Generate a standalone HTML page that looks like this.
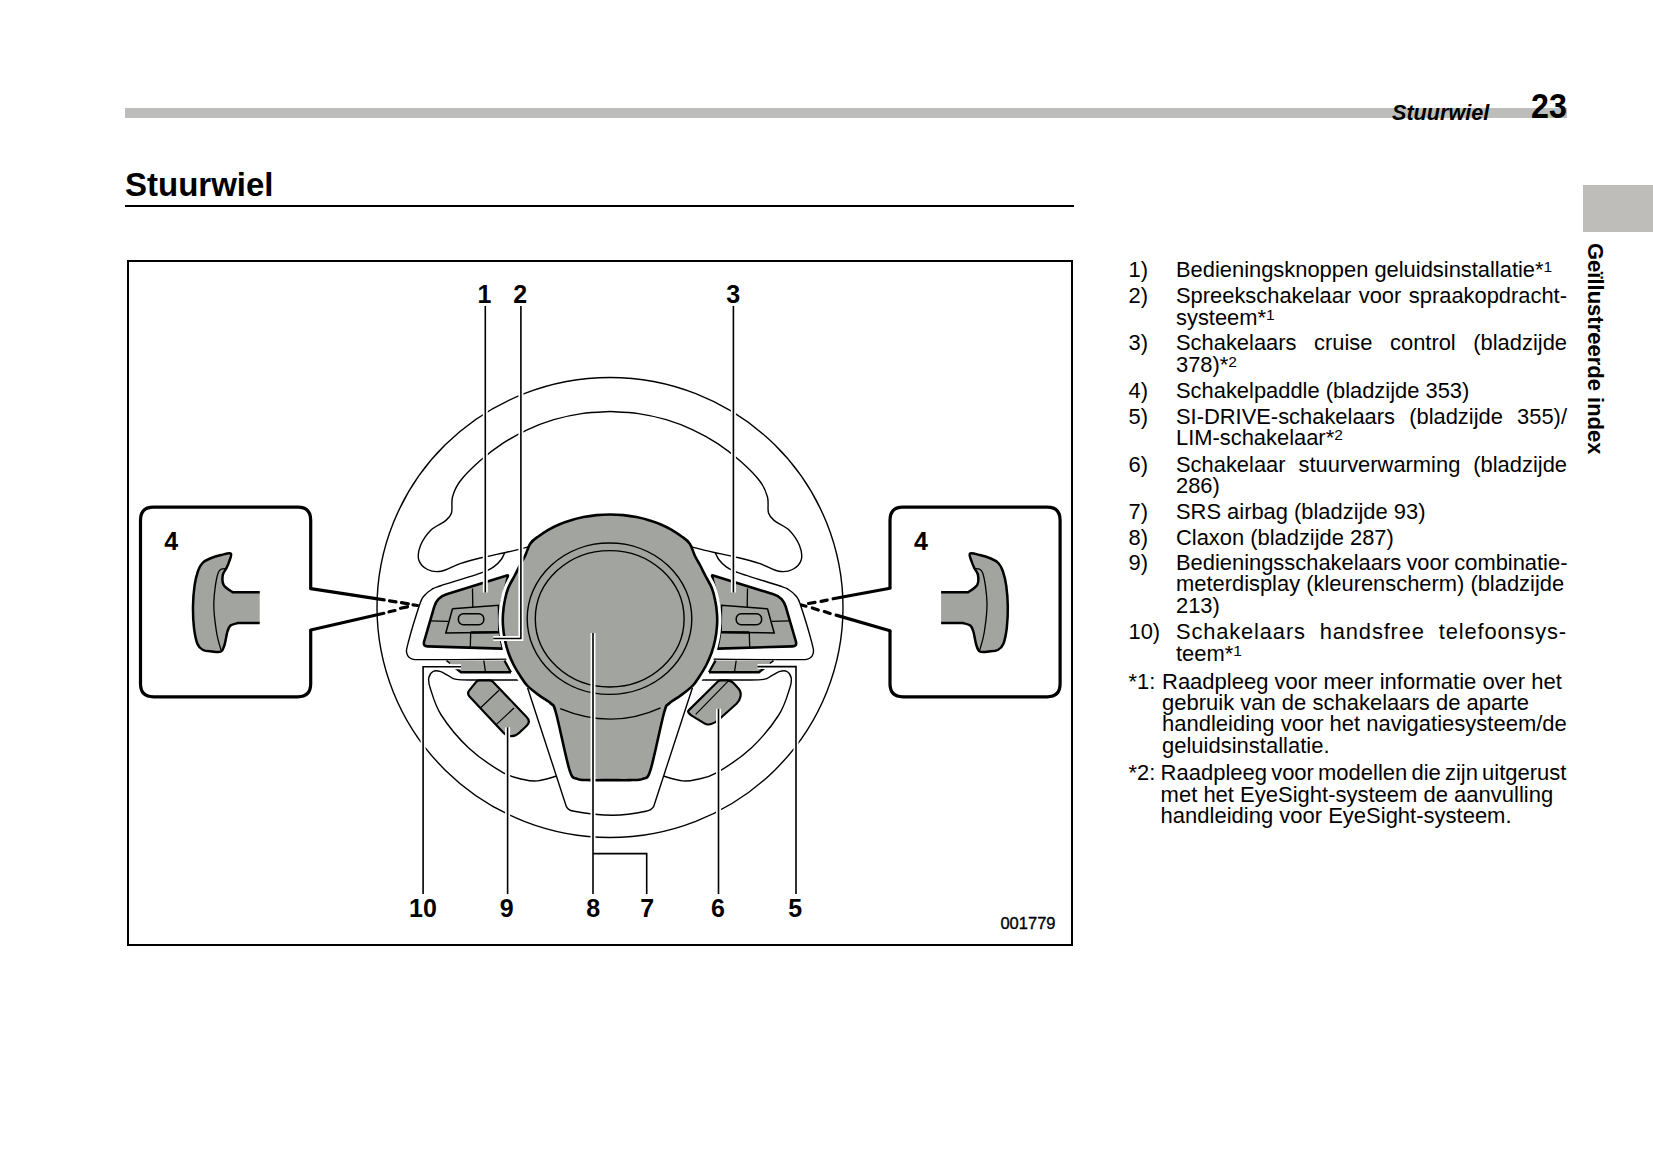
<!DOCTYPE html>
<html><head><meta charset="utf-8"><title>Stuurwiel</title>
<style>
html,body{margin:0;padding:0;background:#fff;}
body{width:1653px;height:1165px;position:relative;overflow:hidden;font-family:"Liberation Sans",sans-serif;color:#000;}
.t{position:absolute;white-space:nowrap;font-size:21.9px;line-height:24px;}
.j{text-align:justify;text-align-last:justify;}
.sup{font-size:15.5px;vertical-align:5px;line-height:0;}
#bar{position:absolute;left:125px;top:108.4px;width:1442px;height:9.4px;background:#bdbdbb;}
#hdr{position:absolute;left:1392px;top:100.4px;font-size:21.6px;font-weight:bold;font-style:italic;line-height:26px;}
#pg{position:absolute;left:1530.5px;top:86.2px;font-size:35px;font-weight:bold;line-height:40px;transform:scaleX(0.92);transform-origin:left top;}
#h1{position:absolute;left:125px;top:165.4px;font-size:33px;font-weight:bold;line-height:40px;}
#rule{position:absolute;left:125px;top:204.6px;width:948.5px;height:2px;background:#000;}
#tab{position:absolute;left:1583px;top:185.3px;width:70px;height:46.7px;background:#bebdb9;}
#vt{position:absolute;left:1581.5px;top:242.8px;font-size:22px;font-weight:bold;line-height:26px;writing-mode:vertical-rl;}
#frame{position:absolute;left:127px;top:260px;width:941.5px;height:681.5px;border:2.3px solid #000;}
svg{position:absolute;left:0;top:0;}
</style></head>
<body>
<div id="bar"></div>
<div id="hdr">Stuurwiel</div>
<div id="pg">23</div>
<div id="h1">Stuurwiel</div>
<div id="rule"></div>
<div id="tab"></div>
<div id="vt">Geïllustreerde index</div>
<div id="frame"></div>
<svg width="1653" height="1165" viewBox="0 0 1653 1165">
<defs><clipPath id="hc"><rect x="0" y="566" width="1653" height="122"/></clipPath></defs>
<ellipse cx="610" cy="607.5" rx="233" ry="230" fill="none" stroke="#000" stroke-width="1.4"/>
<path d="M610 411.5C605.3 411.8 591 412.2 581.6 413.6C572.2 414.9 562.9 417 553.8 419.7C544.7 422.4 535.7 425.9 527.2 429.9C518.6 433.9 510.2 438.5 502.3 443.7C494.4 448.9 486.8 454.8 479.7 461.1C472.6 467.4 464.4 475.5 459.9 481.5C455.3 487.5 453.9 491.8 452.5 497C451.1 502.2 452.7 509 451.5 513C450.3 517 448.7 518.1 445.3 520.9C441.9 523.7 435.1 525.9 431 530C426.9 534.1 422.5 540.6 420.5 545.6C418.5 550.6 417.6 556 418.8 560C420 564 423.8 567.6 427.5 569.5C431.2 571.4 435.8 572.2 441.2 571.2C446.6 570.2 453.3 565.9 460 563.7C466.7 561.5 473.9 559.6 481.3 557.8C488.7 556 498.7 554 504.6 552.7C510.6 551.4 512.4 551 517 549.9C521.6 548.8 529.5 546.6 532 546" fill="none" stroke="#000" stroke-width="1.4" />
<path d="M610 411.5C614.7 411.8 629 412.2 638.4 413.6C647.8 414.9 657.1 417 666.2 419.7C675.3 422.4 684.3 425.9 692.8 429.9C701.4 433.9 709.8 438.5 717.7 443.7C725.6 448.9 733.2 454.8 740.3 461.1C747.4 467.4 755.6 475.5 760.1 481.5C764.7 487.5 766.1 491.8 767.5 497C768.9 502.2 767.3 509 768.5 513C769.7 517 771.3 518.1 774.7 520.9C778.1 523.7 784.9 525.9 789 530C793.1 534.1 797.5 540.6 799.5 545.6C801.5 550.6 802.4 556 801.2 560C800 564 796.2 567.6 792.5 569.5C788.8 571.4 784.2 572.2 778.8 571.2C773.4 570.2 766.7 565.9 760 563.7C753.3 561.5 746.1 559.6 738.7 557.8C731.3 556 721.4 554 715.4 552.7C709.4 551.4 707.6 551 703 549.9C698.4 548.8 690.5 546.6 688 546" fill="none" stroke="#000" stroke-width="1.4" />
<path d="M504.6 553C504 554.1 502.9 557.3 501.2 559.5C499.5 561.7 497.5 564.2 494.3 566.4C491.1 568.6 491.1 569.3 482 572.6C472.9 575.9 448.4 583.2 440 586C431.6 588.8 434.3 587.8 431.6 589.5C428.9 591.2 426 593.4 424 596C422 598.6 422.1 597.2 419.5 605C416.9 612.8 410.3 634.5 408.2 642.6C406.1 650.7 406.2 650.9 406.9 653.6C407.6 656.4 409.4 658.1 412.4 659.1C415.4 660.1 417.9 659.5 425 659.6C432.1 659.7 439.2 659.7 455 659.6C470.8 659.5 509.2 659.1 520 659" fill="none" stroke="#000" stroke-width="1.4" />
<path d="M715.4 553C716 554.1 717.1 557.3 718.8 559.5C720.5 561.7 722.5 564.2 725.7 566.4C728.9 568.6 729 569.3 738 572.6C747 575.9 771.6 583.2 780 586C788.4 588.8 785.7 587.8 788.4 589.5C791.1 591.2 794 593.4 796 596C798 598.6 797.9 597.2 800.5 605C803.1 612.8 809.7 634.5 811.8 642.6C813.9 650.7 813.8 650.9 813.1 653.6C812.4 656.4 810.6 658.1 807.6 659.1C804.6 660.1 802.1 659.5 795 659.6C787.9 659.7 780.8 659.7 765 659.6C749.2 659.5 710.8 659.1 700 659" fill="none" stroke="#000" stroke-width="1.4" />
<path d="M527 680C518.7 680 488.8 680.1 477 680C465.2 679.9 461.1 680.1 456.3 679.4C451.5 678.7 450.9 676.9 448.2 675.6C445.5 674.3 442.5 672.1 440 671.4C437.5 670.7 434.9 670.4 433 671.5C431.1 672.6 429.3 675.1 428.8 677.9C428.3 680.6 428.1 681.8 430.2 688C432.3 694.2 434.8 705 441.2 715C447.6 725 458.4 738.3 468.7 747.9C479 757.5 493.9 767.3 503 772.6C512.1 777.9 517.9 778.1 523.6 779.5C529.3 780.9 532 781.4 537.4 780.9C542.8 780.4 552.9 777.1 556 776.3" fill="none" stroke="#000" stroke-width="1.4" />
<path d="M693 680C701.3 680 731.2 680.1 743 680C754.8 679.9 758.9 680.1 763.7 679.4C768.5 678.7 769.1 676.9 771.8 675.6C774.5 674.3 777.5 672.1 780 671.4C782.5 670.7 785.1 670.4 787 671.5C788.9 672.6 790.7 675.1 791.2 677.9C791.7 680.6 791.9 681.8 789.8 688C787.7 694.2 785.2 705 778.8 715C772.4 725 761.6 738.3 751.3 747.9C741 757.5 726.1 767.3 717 772.6C707.9 777.9 702.1 778.1 696.4 779.5C690.7 780.9 688 781.4 682.6 780.9C677.2 780.4 667.1 777.1 664 776.3" fill="none" stroke="#000" stroke-width="1.4" />
<path d="M526 683L566.4 806.7C567.7 807.5 566.4 809.9 574.1 811.3C581.8 812.7 600.7 815.2 612.7 815.2C624.7 815.2 639.1 812.7 645.9 811.3C652.7 809.9 652.3 807.5 653.6 806.7L694 683" fill="none" stroke="#000" stroke-width="1.4" />
<path d="M446.5 660.6 L504.5 660.6 L511 672.3 L461 672.3Z" fill="#a2a4a0" stroke="none"/>
<path d="M446.5 660.6 L450.1 663.5" fill="none" stroke="#000" stroke-width="1.6" />
<path d="M504.5 660.6 L511 672.3" fill="none" stroke="#000" stroke-width="2.2" />
<path d="M455.9 668.2 L461 672.3 L511 672.3" fill="none" stroke="#000" stroke-width="2.4" />
<path d="M773.5 660.6 L715.5 660.6 L709 672.3 L759 672.3Z" fill="#a2a4a0" stroke="none"/>
<path d="M773.5 660.6 L769.9 663.5" fill="none" stroke="#000" stroke-width="1.6" />
<path d="M715.5 660.6 L709 672.3" fill="none" stroke="#000" stroke-width="2.2" />
<path d="M764.1 668.2 L759 672.3 L709 672.3" fill="none" stroke="#000" stroke-width="2.4" />
<path d="M483.8 660.5L485.5 672M736.2 660.5L734.5 672" fill="none" stroke="#000" stroke-width="1.3" />
<path d="M469.3 690.4L476.2 681.9Q477.5 680.3 479.5 680.3L489.5 680.3Q491.5 680.3 492.9 681.7L526.8 717.2Q531 721.5 526.7 725.7L519.3 732.8Q515 737 510.2 736L508.4 735.6Q505.5 735 503.5 732.8L469.5 696.4Q466.8 693.5 469.3 690.4Z" fill="#a2a4a0" stroke="#000" stroke-width="2.2"/>
<path d="M480.4 708L499 690.2M496.2 724.6L514 708" fill="none" stroke="#000" stroke-width="1.2" />
<path d="M688.9 710.1L717.6 681.7Q719 680.3 721 680.3L727 680.3Q731 680.3 733.7 683.3L738.2 688.3Q741.5 692 740.5 696.5L740.4 697.1Q739.5 701 736.5 703.7L718 720.3Q715 723 711.1 724L709.9 724.3Q707 725 704.4 723.4L691.7 715.6Q690 714.5 688.8 713L688.8 713Q687.5 711.5 688.9 710.1Z" fill="#a2a4a0" stroke="#000" stroke-width="2.2"/>
<path d="M695.7 714.3L728.7 680.6" fill="none" stroke="#000" stroke-width="1.2" />
<path d="M446.5 594.3L506.9 575.4Q508.3 575 507.9 576.5L505.9 585Q503.5 595 501.6 603L501.6 603Q499.7 611 499.6 619.5L499.6 619.5Q499.6 628 500.2 634L500.2 634Q500.8 640 501.9 644.3L502.6 647.1Q503 648.6 501.5 648.6L427.7 646.4Q422.7 646.3 424.1 641.5L434.2 606.9Q437 597.3 446.5 594.3Z" fill="#a2a4a0" stroke="#000" stroke-width="2.6" stroke-linejoin="round"/>
<path d="M773.5 594.3L713.1 575.4Q711.7 575 712.1 576.5L714.1 585Q716.5 595 718.4 603L718.4 603Q720.3 611 720.3 619.5L720.3 619.5Q720.4 628 719.8 634L719.8 634Q719.2 640 718.1 644.3L717.4 647.1Q717 648.6 718.5 648.6L792.3 646.4Q797.3 646.3 795.9 641.5L785.8 606.9Q783 597.3 773.5 594.3Z" fill="#a2a4a0" stroke="#000" stroke-width="2.6" stroke-linejoin="round"/>
<path d="M472.5 588.5 L472.8 607" fill="none" stroke="#000" stroke-width="1.3" />
<path d="M747.5 588.5 L747.2 607" fill="none" stroke="#000" stroke-width="1.3" />
<path d="M430.5 620.8 L448 621.3" fill="none" stroke="#000" stroke-width="1.3" />
<path d="M789.5 620.8 L772 621.3" fill="none" stroke="#000" stroke-width="1.3" />
<path d="M470.7 632.5 L470.3 647.5" fill="none" stroke="#000" stroke-width="1.3" />
<path d="M749.3 632.5 L749.7 647.5" fill="none" stroke="#000" stroke-width="1.3" />
<path d="M452.5 608.8 L498.5 605.3 L498.8 632.3 L445.8 633 L452.5 608.8" fill="none" stroke="#000" stroke-width="1.5" />
<path d="M767.5 608.8 L721.5 605.3 L721.2 632.3 L774.2 633 L767.5 608.8" fill="none" stroke="#000" stroke-width="1.5" />
<path d="M470.7 632.5 L499 632.3" fill="none" stroke="#000" stroke-width="2.4" />
<path d="M749.3 632.5 L721 632.3" fill="none" stroke="#000" stroke-width="2.4" />
<rect x="458.4" y="613.8" width="25.4" height="11" rx="5" fill="none" stroke="#000" stroke-width="1.5"/>
<rect x="736.2" y="613.8" width="25.4" height="11" rx="5" fill="none" stroke="#000" stroke-width="1.5"/>
<path d="M610 514.5C605.5 514.5 601 514.7 596.6 515.1C592.2 515.6 587.8 516.2 583.5 517C579.3 517.9 575 518.9 571 520.2C566.9 521.4 562.9 522.8 559.1 524.5C555.4 526.1 551.7 527.9 548.3 529.8C544.9 531.8 541.6 533.9 538.7 536.2C535.7 538.4 532.7 540.1 530.4 543.4C528.1 546.7 526.8 552.2 525 556C523.2 559.8 521.2 562.7 519.5 566C517.8 569.3 516.4 572.3 514.5 576C512.6 579.7 509.8 583.8 508.2 588C506.5 592.2 505.5 596.7 504.7 601C503.8 605.3 503.3 609.7 503 614C502.7 618.3 502.7 622.7 503.1 627C503.4 631.3 504 635.7 504.9 640C505.8 644.3 507 648.8 508.5 653C510 657.2 511.8 661.2 513.7 665C515.7 668.8 517.9 672.5 520.3 676C522.6 679.5 524.4 682.9 527.7 686.2C531 689.5 536.1 693.1 540 696C543.9 698.9 548.2 700.7 550.9 703.5C553.6 706.3 552.9 702 556 713C559.1 724 565.9 758.6 569.4 769.6C572.9 780.6 573.8 777.1 577.2 778.9C580.6 780.6 584.5 779.9 590 780.1C595.5 780.3 603.3 780.1 610 780.1C616.7 780.1 624.5 780.3 630 780.1C635.5 779.9 639.4 780.6 642.8 778.9C646.2 777.1 647.1 780.6 650.6 769.6C654.1 758.6 660.9 724 664 713C667.1 702 666.4 706.3 669.1 703.5C671.8 700.7 676.1 698.9 680 696C683.9 693.1 689 689.5 692.3 686.2C695.6 682.9 697.4 679.5 699.7 676C702.1 672.5 704.3 668.8 706.3 665C708.2 661.2 710 657.2 711.5 653C713 648.8 714.2 644.3 715.1 640C716 635.7 716.6 631.3 716.9 627C717.3 622.7 717.3 618.3 717 614C716.7 609.7 716.2 605.3 715.3 601C714.5 596.7 713.5 592.2 711.8 588C710.2 583.8 707.4 579.7 705.5 576C703.6 572.3 702.2 569.3 700.5 566C698.8 562.7 696.8 559.8 695 556C693.2 552.2 691.9 546.7 689.6 543.4C687.3 540.1 684.3 538.4 681.3 536.2C678.4 533.9 675.1 531.8 671.7 529.8C668.3 527.9 664.6 526.1 660.9 524.5C657.1 522.8 653.1 521.4 649 520.2C645 518.9 640.7 517.9 636.5 517C632.2 516.2 627.8 515.6 623.4 515.1C619 514.7 614.5 514.5 610 514.5Z" fill="none" stroke="#fff" stroke-width="8.5" clip-path="url(#hc)"/>
<path d="M610 514.5C605.5 514.5 601 514.7 596.6 515.1C592.2 515.6 587.8 516.2 583.5 517C579.3 517.9 575 518.9 571 520.2C566.9 521.4 562.9 522.8 559.1 524.5C555.4 526.1 551.7 527.9 548.3 529.8C544.9 531.8 541.6 533.9 538.7 536.2C535.7 538.4 532.7 540.1 530.4 543.4C528.1 546.7 526.8 552.2 525 556C523.2 559.8 521.2 562.7 519.5 566C517.8 569.3 516.4 572.3 514.5 576C512.6 579.7 509.8 583.8 508.2 588C506.5 592.2 505.5 596.7 504.7 601C503.8 605.3 503.3 609.7 503 614C502.7 618.3 502.7 622.7 503.1 627C503.4 631.3 504 635.7 504.9 640C505.8 644.3 507 648.8 508.5 653C510 657.2 511.8 661.2 513.7 665C515.7 668.8 517.9 672.5 520.3 676C522.6 679.5 524.4 682.9 527.7 686.2C531 689.5 536.1 693.1 540 696C543.9 698.9 548.2 700.7 550.9 703.5C553.6 706.3 552.9 702 556 713C559.1 724 565.9 758.6 569.4 769.6C572.9 780.6 573.8 777.1 577.2 778.9C580.6 780.6 584.5 779.9 590 780.1C595.5 780.3 603.3 780.1 610 780.1C616.7 780.1 624.5 780.3 630 780.1C635.5 779.9 639.4 780.6 642.8 778.9C646.2 777.1 647.1 780.6 650.6 769.6C654.1 758.6 660.9 724 664 713C667.1 702 666.4 706.3 669.1 703.5C671.8 700.7 676.1 698.9 680 696C683.9 693.1 689 689.5 692.3 686.2C695.6 682.9 697.4 679.5 699.7 676C702.1 672.5 704.3 668.8 706.3 665C708.2 661.2 710 657.2 711.5 653C713 648.8 714.2 644.3 715.1 640C716 635.7 716.6 631.3 716.9 627C717.3 622.7 717.3 618.3 717 614C716.7 609.7 716.2 605.3 715.3 601C714.5 596.7 713.5 592.2 711.8 588C710.2 583.8 707.4 579.7 705.5 576C703.6 572.3 702.2 569.3 700.5 566C698.8 562.7 696.8 559.8 695 556C693.2 552.2 691.9 546.7 689.6 543.4C687.3 540.1 684.3 538.4 681.3 536.2C678.4 533.9 675.1 531.8 671.7 529.8C668.3 527.9 664.6 526.1 660.9 524.5C657.1 522.8 653.1 521.4 649 520.2C645 518.9 640.7 517.9 636.5 517C632.2 516.2 627.8 515.6 623.4 515.1C619 514.7 614.5 514.5 610 514.5Z" fill="#a2a4a0" stroke="#000" stroke-width="2.6"/>
<ellipse cx="609.5" cy="618.7" rx="82.3" ry="75.7" fill="none" stroke="#000" stroke-width="1.4"/>
<ellipse cx="609.7" cy="618.8" rx="74.4" ry="68.2" fill="none" stroke="#000" stroke-width="1.4"/>
<path d="M560.2 708.6Q612 730 660.6 707.8" fill="none" stroke="#000" stroke-width="1.4" />
<path d="M485.3 306V592.5" fill="none" stroke="#fff" stroke-width="5"/>
<path d="M520.9 306V638.5H493.4" fill="none" stroke="#fff" stroke-width="5"/>
<path d="M733.4 306V592.5" fill="none" stroke="#fff" stroke-width="5"/>
<path d="M423.1 894V666.8H461" fill="none" stroke="#fff" stroke-width="5"/>
<path d="M507.6 894V727.3" fill="none" stroke="#fff" stroke-width="5"/>
<path d="M593 894V633" fill="none" stroke="#fff" stroke-width="5"/>
<path d="M593 853.6H646.7V894" fill="none" stroke="#fff" stroke-width="5"/>
<path d="M718.5 894V708.8" fill="none" stroke="#fff" stroke-width="5"/>
<path d="M796 894V666.6H757.5" fill="none" stroke="#fff" stroke-width="5"/>
<path d="M485.3 306V592.5" fill="none" stroke="#000" stroke-width="1.6"/>
<path d="M520.9 306V638.5H493.4" fill="none" stroke="#000" stroke-width="1.6"/>
<path d="M733.4 306V592.5" fill="none" stroke="#000" stroke-width="1.6"/>
<path d="M423.1 894V666.8H461" fill="none" stroke="#000" stroke-width="1.6"/>
<path d="M507.6 894V727.3" fill="none" stroke="#000" stroke-width="1.6"/>
<path d="M593 894V633" fill="none" stroke="#000" stroke-width="1.6"/>
<path d="M593 853.6H646.7V894" fill="none" stroke="#000" stroke-width="1.6"/>
<path d="M718.5 894V708.8" fill="none" stroke="#000" stroke-width="1.6"/>
<path d="M796 894V666.6H757.5" fill="none" stroke="#000" stroke-width="1.6"/>
<path d="M310.7 588.7V520.2Q310.7 507.2 297.7 507.2H153.5Q140.5 507.2 140.5 520.2V683.8Q140.5 696.8 153.5 696.8H297.7Q310.7 696.8 310.7 683.8V630" fill="none" stroke="#000" stroke-width="3.2" stroke-linejoin="round"/>
<path d="M890 588.2V520.2Q890 507.2 903 507.2H1047.1Q1060.1 507.2 1060.1 520.2V683.8Q1060.1 696.8 1047.1 696.8H903Q890 696.8 890 683.8V630.8" fill="none" stroke="#000" stroke-width="3.2" stroke-linejoin="round"/>
<path d="M310.7 588.7L384.2 599.9M310.7 630L383.8 613.3" fill="none" stroke="#000" stroke-width="3.2" stroke-linecap="round"/>
<path d="M389.5 600.8L396 601.9M401.5 602.7L408.3 603.8M413 604.8L417.5 605.5M389 611.8L395 610.5M400.5 608.3L407.5 606.9" fill="none" stroke="#000" stroke-width="3.2" stroke-linecap="round"/>
<path d="M890 588.2L833.1 598.8M890 630.8L836.1 615.1" fill="none" stroke="#000" stroke-width="3.2" stroke-linecap="round"/>
<path d="M827.2 600.1L821 601.4M815 602.4L808.5 603.5M806 606.2L801.5 605M830.2 613.6L824.3 611.6M818.3 610L812.3 608" fill="none" stroke="#000" stroke-width="3.2" stroke-linecap="round"/>
<path d="M259.7 623L238 623C236.8 623.4 232.3 624 230.5 625.5C228.7 627 228.3 628.8 227.3 632C226.3 635.2 225.6 641.8 224.5 645C223.4 648.2 223.1 650.4 221 651.5C218.9 652.6 215 651.8 212 651.5C209 651.2 205.4 651.2 203 650C200.6 648.8 199 647.7 197.5 644C196 640.3 194.8 634.3 194 628C193.2 621.7 192.9 613 193 606C193.1 599 193.7 591.8 194.5 586C195.3 580.2 196.7 574.8 198 571C199.3 567.2 200.5 565.1 202.5 563C204.5 560.9 206.9 559.8 210 558.5C213.1 557.2 217.5 555.8 221 555C224.5 554.2 229.6 552.4 230.9 553.6C232.2 554.8 229.7 559.6 229 562C228.3 564.4 227.5 565.8 226.5 568C225.5 570.2 223.3 572.1 222.8 575C222.3 577.9 222 582.2 223.7 585.1C225.3 588 231.2 591.1 232.7 592.3L259.7 592.3" fill="#a2a4a0" stroke="#000" stroke-width="2.5" stroke-linejoin="round"/>
<path d="M227 568.5C225.6 569.2 220.5 566.8 218.3 572.5C216.1 578.2 214.1 593.1 213.8 603C213.5 612.9 215.3 624.2 216.5 632C217.7 639.8 220.2 647 221 650" fill="none" stroke="#000" stroke-width="1.3"/>
<path d="M941.1 623L962.8 623C964 623.4 968.5 624 970.3 625.5C972.1 627 972.5 628.8 973.5 632C974.5 635.2 975.2 641.8 976.3 645C977.3 648.2 977.7 650.4 979.8 651.5C981.9 652.6 985.8 651.8 988.8 651.5C991.8 651.2 995.4 651.2 997.8 650C1000.2 648.8 1001.8 647.7 1003.3 644C1004.8 640.3 1006 634.3 1006.8 628C1007.5 621.7 1007.9 613 1007.8 606C1007.7 599 1007.1 591.8 1006.3 586C1005.5 580.2 1004.1 574.8 1002.8 571C1001.5 567.2 1000.3 565.1 998.3 563C996.3 560.9 993.9 559.8 990.8 558.5C987.7 557.2 983.3 555.8 979.8 555C976.3 554.2 971.2 552.4 969.9 553.6C968.6 554.8 971.1 559.6 971.8 562C972.5 564.4 973.3 565.8 974.3 568C975.3 570.2 977.5 572.1 978 575C978.5 577.9 978.7 582.2 977.1 585.1C975.4 588 969.6 591.1 968.1 592.3L941.1 592.3" fill="#a2a4a0" stroke="#000" stroke-width="2.5" stroke-linejoin="round"/>
<path d="M973.8 568.5C975.2 569.2 980.3 566.8 982.5 572.5C984.7 578.2 986.7 593.1 987 603C987.3 612.9 985.5 624.2 984.3 632C983.1 639.8 980.5 647 979.8 650" fill="none" stroke="#000" stroke-width="1.3"/>
<text x="484.5" y="302.8" text-anchor="middle" font-family="Liberation Sans" font-weight="bold" font-size="25">1</text>
<text x="520.2" y="302.8" text-anchor="middle" font-family="Liberation Sans" font-weight="bold" font-size="25">2</text>
<text x="733.2" y="302.8" text-anchor="middle" font-family="Liberation Sans" font-weight="bold" font-size="25">3</text>
<text x="171.3" y="549.7" text-anchor="middle" font-family="Liberation Sans" font-weight="bold" font-size="25">4</text>
<text x="921" y="549.7" text-anchor="middle" font-family="Liberation Sans" font-weight="bold" font-size="25">4</text>
<text x="423" y="917" text-anchor="middle" font-family="Liberation Sans" font-weight="bold" font-size="25">10</text>
<text x="506.8" y="917" text-anchor="middle" font-family="Liberation Sans" font-weight="bold" font-size="25">9</text>
<text x="593.3" y="917" text-anchor="middle" font-family="Liberation Sans" font-weight="bold" font-size="25">8</text>
<text x="647.3" y="917" text-anchor="middle" font-family="Liberation Sans" font-weight="bold" font-size="25">7</text>
<text x="718" y="917" text-anchor="middle" font-family="Liberation Sans" font-weight="bold" font-size="25">6</text>
<text x="795.2" y="917" text-anchor="middle" font-family="Liberation Sans" font-weight="bold" font-size="25">5</text>
<text x="1055.5" y="929" text-anchor="end" font-family="Liberation Sans" font-size="16.5" stroke="#000" stroke-width="0.35">001779</text>
</svg>
<div class="t" style="left:1128.5px;top:257.9px">1)</div>
<div class="t" style="left:1176px;top:257.9px;">Bedieningsknoppen geluidsinstallatie*<span class="sup">1</span></div>
<div class="t" style="left:1128.5px;top:283.9px">2)</div>
<div class="t j" style="left:1176px;top:283.9px;width:391px;">Spreekschakelaar voor spraakopdracht-</div>
<div class="t" style="left:1176px;top:305.5px;">systeem*<span class="sup">1</span></div>
<div class="t" style="left:1128.5px;top:331.2px">3)</div>
<div class="t j" style="left:1176px;top:331.2px;width:391px;">Schakelaars cruise control (bladzijde</div>
<div class="t" style="left:1176px;top:352.8px;">378)*<span class="sup">2</span></div>
<div class="t" style="left:1128.5px;top:379.0px">4)</div>
<div class="t" style="left:1176px;top:379.0px;">Schakelpaddle (bladzijde 353)</div>
<div class="t" style="left:1128.5px;top:404.5px">5)</div>
<div class="t j" style="left:1176px;top:404.5px;width:391px;">SI-DRIVE-schakelaars (bladzijde 355)/</div>
<div class="t" style="left:1176px;top:426.2px;">LIM-schakelaar*<span class="sup">2</span></div>
<div class="t" style="left:1128.5px;top:452.5px">6)</div>
<div class="t j" style="left:1176px;top:452.5px;width:391px;">Schakelaar stuurverwarming (bladzijde</div>
<div class="t" style="left:1176px;top:474.0px;">286)</div>
<div class="t" style="left:1128.5px;top:500.1px">7)</div>
<div class="t" style="left:1176px;top:500.1px;">SRS airbag (bladzijde 93)</div>
<div class="t" style="left:1128.5px;top:525.5px">8)</div>
<div class="t" style="left:1176px;top:525.5px;">Claxon (bladzijde 287)</div>
<div class="t" style="left:1128.5px;top:550.8px">9)</div>
<div class="t j" style="left:1176px;top:550.8px;width:391px;word-spacing:-0.8px;">Bedieningsschakelaars voor combinatie-</div>
<div class="t" style="left:1176px;top:572.2px;">meterdisplay (kleurenscherm) (bladzijde</div>
<div class="t" style="left:1176px;top:594.2px;">213)</div>
<div class="t" style="left:1128.5px;top:619.7px">10)</div>
<div class="t j" style="left:1176px;top:619.7px;width:391px;letter-spacing:0.85px;">Schakelaars handsfree telefoonsys-</div>
<div class="t" style="left:1176px;top:642.2px;">teem*<span class="sup">1</span></div>
<div class="t" style="left:1128.5px;top:669.5px">*1:</div>
<div class="t" style="left:1162px;top:669.5px;font-size:22px;">Raadpleeg voor meer informatie over het</div>
<div class="t" style="left:1162px;top:691.0px;font-size:22px;">gebruik van de schakelaars de aparte</div>
<div class="t" style="left:1162px;top:712.4px;font-size:22px;">handleiding voor het navigatiesysteem/de</div>
<div class="t" style="left:1162px;top:733.9px;font-size:22px;">geluidsinstallatie.</div>
<div class="t" style="left:1128.5px;top:760.6px">*2:</div>
<div class="t" style="left:1160.6px;top:760.6px;font-size:22px;word-spacing:-2px;">Raadpleeg voor modellen die zijn uitgerust</div>
<div class="t" style="left:1160.6px;top:782.9px;font-size:22px;">met het EyeSight-systeem de aanvulling</div>
<div class="t" style="left:1160.6px;top:804.4px;font-size:22px;">handleiding voor EyeSight-systeem.</div>
</body></html>
